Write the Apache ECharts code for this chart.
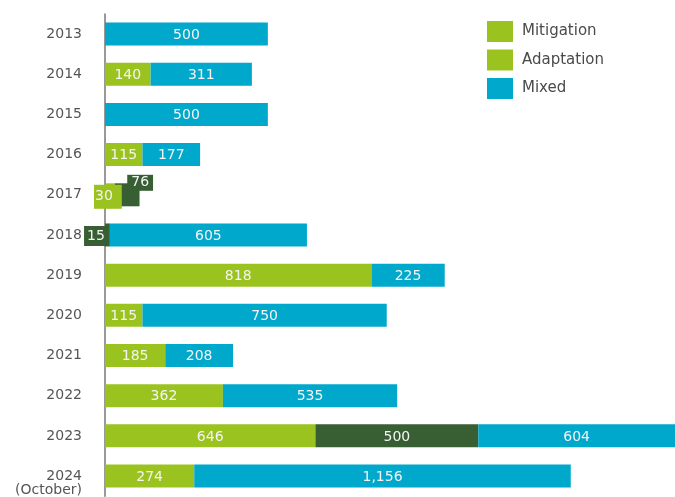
<!DOCTYPE html>
<html><head><meta charset="utf-8">
<script src="https://cdn.jsdelivr.net/npm/echarts@6/dist/echarts.min.js"></script>
<style>html,body{margin:0;padding:0;background:#fff}#c{width:675px;height:497px}</style>
</head><body><div id="c"></div>
<script>
var years = ['2013','2014','2015','2016','2017','2018','2019','2020','2021','2022','2023','2024\n(October)'];
var mitigation = [null,140,null,115,30,null,818,115,185,362,646,274];
var adaptation = [null,null,null,null,76,15,null,null,null,null,500,null];
var mixed      = [500,311,500,177,null,605,225,750,208,535,604,1156];

var C_MIT = '#9bc31f', C_ADA = '#385e34', C_MIX = '#00a8cc';
var FONT = '"DejaVu Sans", sans-serif';

// label overrides for tiny segments (styling only)
var labelOverrides = {
  mit: {4: {backgroundColor: C_MIT, padding: [9, 9, 1, 1], offset: [-2, 2]}},
  ada: {4: {backgroundColor: C_ADA, padding: [1, 4, 1, 4], offset: [13, -12]},
        5: {backgroundColor: C_ADA, padding: [3, 2, 3, 3], offset: [-12, 1]}}
};
function build(arr, key) {
  return arr.map(function (v, i) {
    if (v == null) return null;
    var o = {value: v};
    if (labelOverrides[key] && labelOverrides[key][i]) o.label = labelOverrides[key][i];
    return o;
  });
}
var lbl = {
  show: true, position: 'inside', color: '#f4f4f4', fontSize: 14, fontFamily: FONT, offset: [0, 1],
  formatter: function (p) { return p.value == null ? '' : p.value.toLocaleString('en-US'); }
};
var chart = echarts.init(document.getElementById('c'), null, {renderer: 'canvas'});
chart.setOption({
  animation: false,
  grid: {left: 105, right: 0, top: 14, bottom: 0, containLabel: false},
  legend: {
    orient: 'vertical', left: 487, top: 21, padding: 0, itemWidth: 26, itemHeight: 21, itemGap: 7.5,
    icon: 'rect',
    textStyle: {color: '#4a4a4a', fontSize: 15, fontFamily: FONT, padding: [0, 0, 0, 4]},
    data: [{name: 'Mitigation'}, {name: 'Adaptation', itemStyle: {color: C_MIT}}, {name: 'Mixed'}]
  },
  xAxis: {type: 'value', min: 0, max: 1750, show: false},
  yAxis: {
    type: 'category', inverse: true, data: years,
    axisTick: {show: false},
    axisLine: {lineStyle: {color: '#777', width: 1.5}},
    axisLabel: {color: '#555', fontSize: 14, fontFamily: FONT, margin: 23, lineHeight: 14,
      formatter: function (v) { return v.indexOf('\n') >= 0 ? '\n' + v : v; }}
  },
  series: [
    {name: 'Mitigation', type: 'bar', stack: 't', barWidth: 23, itemStyle: {color: C_MIT}, label: lbl, data: build(mitigation, 'mit')},
    {name: 'Adaptation', type: 'bar', stack: 't', barWidth: 23, itemStyle: {color: C_ADA}, label: lbl, data: build(adaptation, 'ada')},
    {name: 'Mixed', type: 'bar', stack: 't', barWidth: 23, itemStyle: {color: C_MIX}, label: lbl, data: build(mixed, 'mix')}
  ]
});
</script></body></html>
